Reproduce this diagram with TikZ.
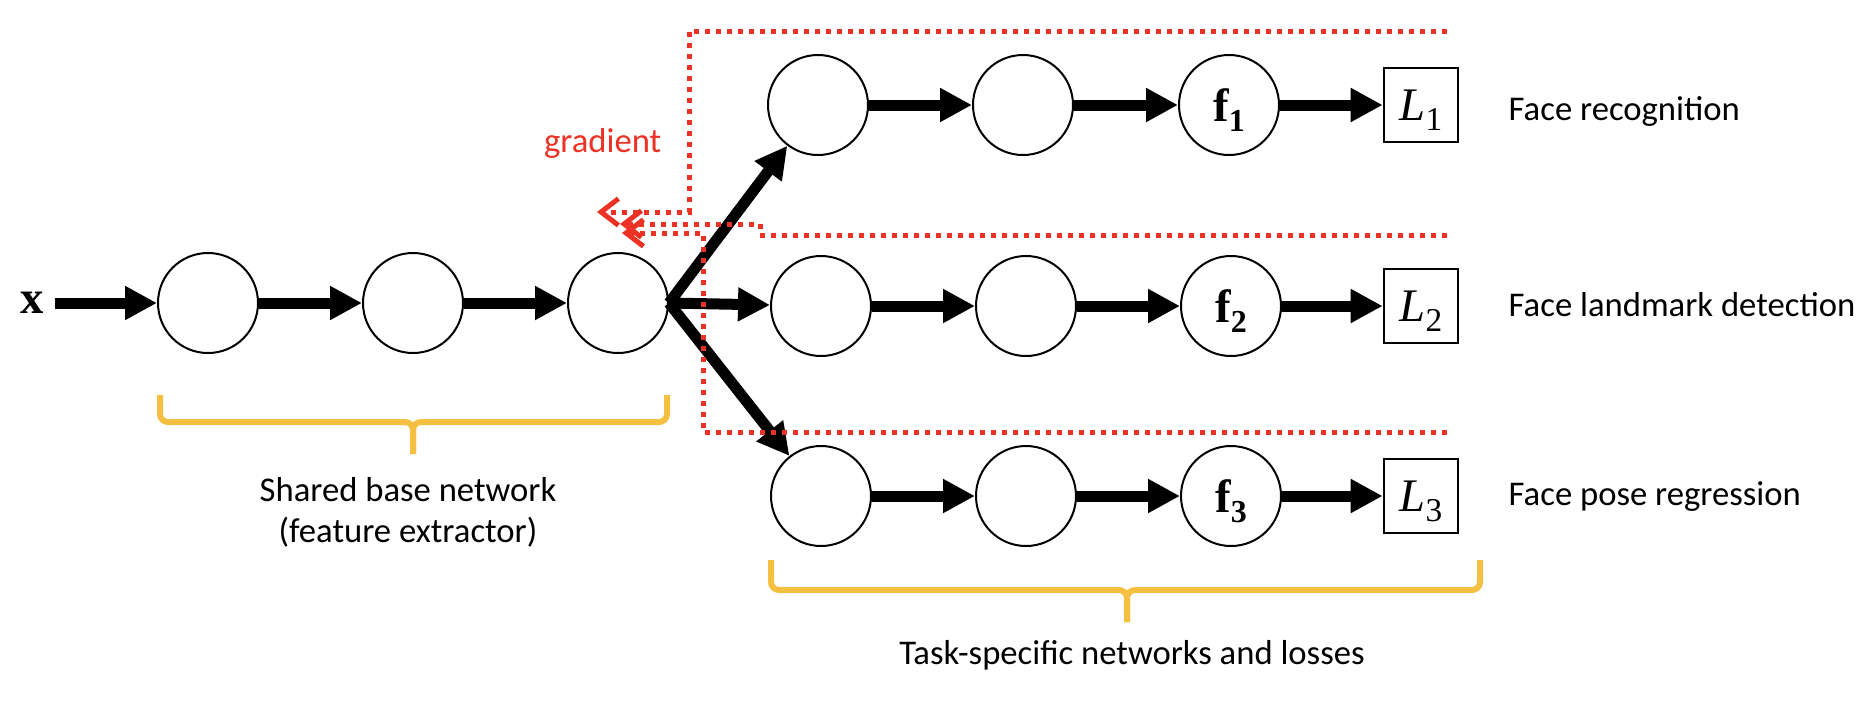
\documentclass[tikz,border=0pt]{standalone}
\usepackage{fontspec}
\setmainfont{Carlito}
\newfontfamily\tnr{Liberation Serif}
\usetikzlibrary{arrows.meta}
\definecolor{gradred}{RGB}{236,50,36}
\definecolor{braceyellow}{RGB}{245,192,66}
\newcommand{\fsub}[1]{{\tnr\bfseries f\raisebox{-7.5pt}{\fontsize{24}{24}\selectfont #1}}}
\newcommand{\lsub}[1]{{\tnr\itshape L}\raisebox{-7.5pt}{\fontsize{25}{25}\selectfont\tnr #1}}
\tikzset{
  unit/.style={draw, circle, line width=1.5pt, minimum size=75pt, inner sep=0pt, text depth=0pt, font=\fontsize{35}{40}\selectfont},
  loss/.style={draw, rectangle, line width=1.5pt, minimum size=56pt, inner sep=0pt, text depth=0pt, font=\fontsize{35}{40}\selectfont},
  inpt/.style={inner sep=8pt, font=\fontsize{35}{40}\selectfont\tnr\bfseries},
  flow/.style={line width=8.25pt, -{Triangle[length=24pt,width=24pt]}},
  backprop/.style={gradred, line width=3.75pt, dash pattern=on 3.5pt off 4.75pt, -{Straight Barb[length=13pt,width=20pt]}},
  brace/.style={braceyellow, line width=4.5pt, rounded corners=6pt},
  lbl/.style={anchor=base, font=\fontsize{26}{31}\selectfont}
}
\begin{document}
\begin{tikzpicture}[x=0.75pt,y=-0.75pt]
\useasboundingbox (0,0) rectangle (1866,704);

\node[inpt] (xin) at (32,303) {x};
\node[unit] (b1) at (208,303) {};
\node[unit] (b2) at (413,303) {};
\node[unit] (b3) at (618,303) {};

\node[unit] (a1) at (818,105) {};
\node[unit] (a2) at (1023,105) {};
\node[unit] (f1) at (1229,105) {\fsub{1}};
\node[loss] (l1) at (1421,105) {\lsub{1}};
\node[unit] (c1) at (821,306) {};
\node[unit] (c2) at (1026,306) {};
\node[unit] (f2) at (1231,306) {\fsub{2}};
\node[loss] (l2) at (1421,306) {\lsub{2}};
\node[unit] (d1) at (821,496) {};
\node[unit] (d2) at (1026,496) {};
\node[unit] (f3) at (1231,496) {\fsub{3}};
\node[loss] (l3) at (1421,496) {\lsub{3}};

\draw[flow] (xin) -- (b1);
\draw[flow] (b1) -- (b2);
\draw[flow] (b2) -- (b3);
\draw[flow] (b3.east) -- (a1);
\draw[flow] (b3.east) -- (c1);
\draw[flow] (b3.east) -- (d1);
\draw[flow] (a1) -- (a2);
\draw[flow] (a2) -- (f1);
\draw[flow] (f1) -- (l1);
\draw[flow] (c1) -- (c2);
\draw[flow] (c2) -- (f2);
\draw[flow] (f2) -- (l2);
\draw[flow] (d1) -- (d2);
\draw[flow] (d2) -- (f3);
\draw[flow] (f3) -- (l3);

\node[lbl, anchor=base west] (t1) at (1504,120) {Face recognition};
\node[lbl, anchor=base west] (t2) at (1504,316) {Face landmark detection};
\node[lbl, anchor=base west] (t3) at (1504,505) {Face pose regression};

\coordinate (g1) at (597,212);
\coordinate (g2) at (620,224);
\coordinate (g3) at (622,233);
\draw[backprop] (1447,31) -- (689,31) -- (689,212) -- (g1);
\draw[backprop] (1447,235) -- (760,235) -- (760,224) -- (g2);
\draw[backprop] (1447,432) -- (703,432) -- (703,233) -- (g3);
\node[lbl, anchor=base east, gradred] (grad) at (666,152) {gradient};

\draw[brace] (160,395) -- (160,422) -- (413,422) -- (413,454);
\draw[brace] (413,454) -- (413,422) -- (667,422) -- (667,395);
\node[lbl] (sh1) at (408,501) {Shared base network};
\node[lbl] (sh2) at (408,542) {(feature extractor)};

\draw[brace] (771,560) -- (771,590) -- (1127,590) -- (1127,622);
\draw[brace] (1127,622) -- (1127,590) -- (1480,590) -- (1480,560);
\node[lbl] (ts) at (1132,664) {Task-specific networks and losses};
\end{tikzpicture}
\end{document}
